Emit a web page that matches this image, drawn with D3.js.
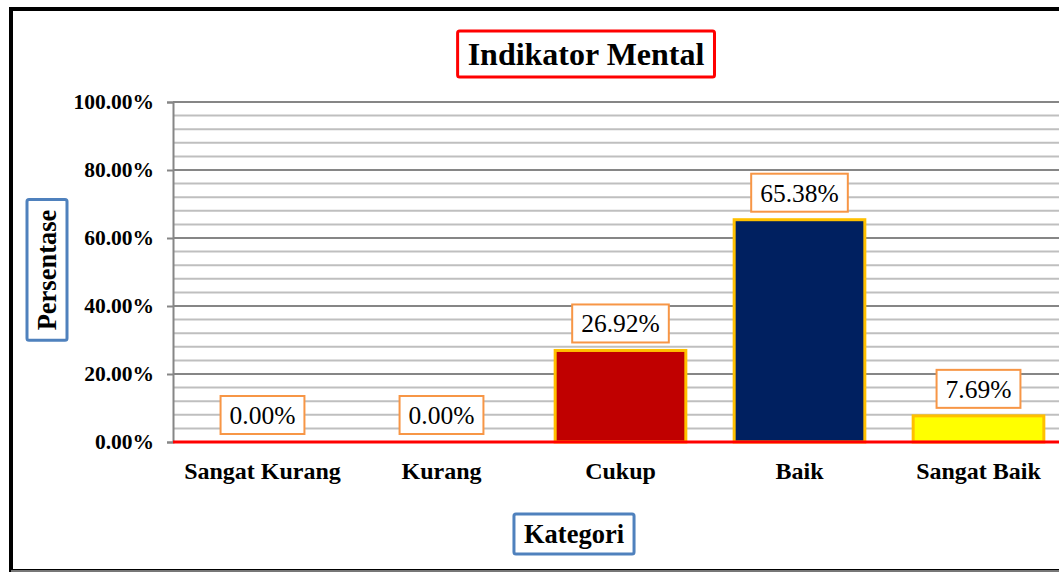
<!DOCTYPE html>
<html>
<head>
<meta charset="utf-8">
<script src="https://cdn.jsdelivr.net/npm/d3@7"></script>
<style>
  body { margin: 0; background: #fff; }
  svg { display: block; }
  svg text { font-family: "Liberation Serif", "Times New Roman", Tinos, serif; }
</style>
</head>
<body>
<div id="chart"></div>
<script>
// Data
const categories = ['Sangat Kurang', 'Kurang', 'Cukup', 'Baik', 'Sangat Baik'];
const values = [0, 0, 26.92, 65.38, 7.69];
const barColors = ['#C00000', '#C00000', '#C00000', '#002060', '#FFFF00'];
const majorTicks = [0, 20, 40, 60, 80, 100];
const minorTicks = d3.range(0, 101, 4);

const width = 1059;
const height = 572;
const margin = { top: 102, right: -9, bottom: 130, left: 173 };
const serif = '"Liberation Serif", "Times New Roman", Tinos, serif';

const svg = d3.select('#chart').append('svg')
  .attr('width', width)
  .attr('height', height);

// outer frame (cut off on right)
svg.append('rect')
  .attr('x', 11).attr('y', 9)
  .attr('width', 1100).attr('height', 562)
  .attr('fill', 'none')
  .attr('stroke', '#000')
  .attr('stroke-width', 4);
svg.append('line')
  .attr('x1', 11).attr('x2', width)
  .attr('y1', 571).attr('y2', 571)
  .attr('stroke', '#777').attr('stroke-width', 2);

const x = d3.scaleBand()
  .domain(categories)
  .range([margin.left, width - margin.right])
  .paddingInner(0.27)
  .paddingOuter(0.135);

const y = d3.scaleLinear()
  .domain([0, 100])
  .range([height - margin.bottom, margin.top]);

// gridlines
svg.append('g')
  .selectAll('line')
  .data(minorTicks.filter(d => d % 20 !== 0))
  .enter().append('line')
  .attr('x1', margin.left).attr('x2', width)
  .attr('y1', d => y(d)).attr('y2', d => y(d))
  .attr('stroke', '#bfbfbf')
  .attr('stroke-width', 2);

svg.append('g')
  .selectAll('line')
  .data(majorTicks.filter(d => d > 0))
  .enter().append('line')
  .attr('x1', margin.left).attr('x2', width)
  .attr('y1', d => y(d)).attr('y2', d => y(d))
  .attr('stroke', '#868686')
  .attr('stroke-width', 2);

// y axis
const yAxis = svg.append('g')
  .attr('transform', `translate(${margin.left},0)`)
  .call(d3.axisLeft(y).tickValues(majorTicks).tickSize(6).tickPadding(13)
    .tickFormat(d => d.toFixed(2) + '%'));
yAxis.select('.domain').attr('stroke', '#868686').attr('stroke-width', 2);
yAxis.selectAll('.tick line').attr('stroke', '#868686').attr('stroke-width', 2);
yAxis.selectAll('text')
  .attr('font-family', serif)
  .attr('font-size', 21.5)
  .attr('font-weight', 'bold')
  .attr('fill', '#000');

// bars
svg.selectAll('.bar')
  .data(categories)
  .enter().append('rect')
  .attr('class', 'bar')
  .attr('x', d => x(d))
  .attr('y', (d, i) => y(values[i]))
  .attr('width', x.bandwidth())
  .attr('height', (d, i) => y(0) - y(values[i]))
  .attr('fill', (d, i) => barColors[i])
  .attr('stroke', '#FFC000')
  .attr('stroke-width', 3)
  .style('display', (d, i) => values[i] > 0 ? null : 'none');

// baseline
svg.append('line')
  .attr('x1', margin.left).attr('x2', width)
  .attr('y1', y(0)).attr('y2', y(0))
  .attr('stroke', '#FF0000')
  .attr('stroke-width', 3);

// data labels
const lab = svg.selectAll('.lab')
  .data(categories)
  .enter().append('g')
  .attr('class', 'lab')
  .attr('transform', (d, i) => `translate(${x(d) + x.bandwidth() / 2},${y(values[i]) - 27})`);
lab.append('text')
  .attr('text-anchor', 'middle')
  .attr('dy', '0.35em')
  .attr('font-family', serif)
  .attr('font-size', 25.5)
  .attr('fill', '#000')
  .text((d, i) => values[i].toFixed(2) + '%');
lab.each(function () {
  const g = d3.select(this);
  const bb = g.select('text').node().getBBox();
  g.insert('rect', 'text')
    .attr('x', bb.x - 9).attr('y', -19)
    .attr('width', bb.width + 18).attr('height', 38)
    .attr('fill', '#fff')
    .attr('stroke', '#F79646')
    .attr('stroke-width', 2);
});

// x labels
svg.append('g')
  .selectAll('text')
  .data(categories)
  .enter().append('text')
  .attr('x', d => x(d) + x.bandwidth() / 2)
  .attr('y', 479)
  .attr('text-anchor', 'middle')
  .attr('font-family', serif)
  .attr('font-size', 24)
  .attr('font-weight', 'bold')
  .text(d => d);

// boxed titles
function boxedText(cx, cy, txt, size, color, rotate, padX, h) {
  const g = svg.append('g').attr('transform', `translate(${cx},${cy})${rotate ? ' rotate(-90)' : ''}`);
  const t = g.append('text')
    .attr('text-anchor', 'middle')
    .attr('dy', '0.35em')
    .attr('font-family', serif)
    .attr('font-size', size)
    .attr('font-weight', 'bold')
    .text(txt);
  const bb = t.node().getBBox();
  g.insert('rect', 'text')
    .attr('x', bb.x - padX).attr('y', -h / 2)
    .attr('width', bb.width + 2 * padX).attr('height', h)
    .attr('rx', 2)
    .attr('fill', '#fff')
    .attr('stroke', color)
    .attr('stroke-width', 3);
}
boxedText(586, 54, 'Indikator Mental', 32, '#FF0000', false, 10, 46);
boxedText(47, 270, 'Persentase', 26.5, '#4F81BD', true, 10, 40);
boxedText(574, 534, 'Kategori', 26.5, '#4F81BD', false, 10, 40);
</script>
</body>
</html>
